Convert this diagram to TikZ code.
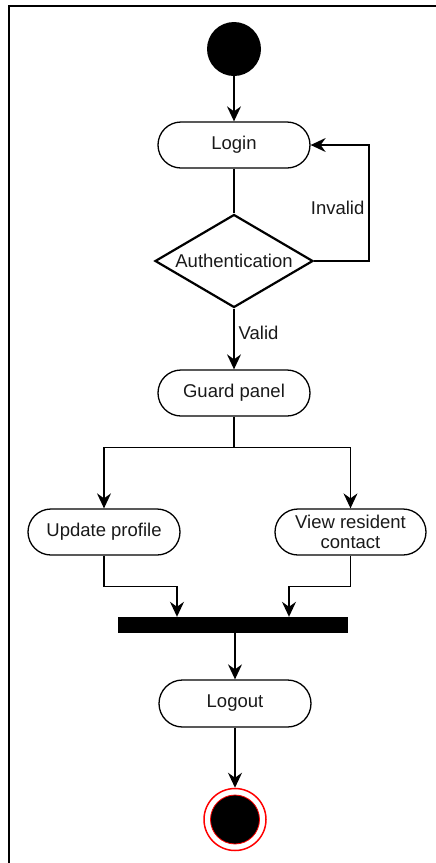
\documentclass[tikz,border=0pt]{standalone}
\usepackage{fontspec}
\setmainfont{Liberation Sans}
\usetikzlibrary{shapes.geometric,shapes.misc,arrows.meta,calc}

\tikzset{
  lbl/.style={font=\fontsize{18.5}{20.5}\selectfont, text=black!90},
  activity/.style={lbl, draw, line width=1.3pt, rounded rectangle,
    minimum width=156pt, minimum height=46pt, inner sep=2pt, align=center},
  decision/.style={lbl, draw, line width=2.2pt, diamond, aspect=1.7,
    minimum width=158pt, minimum height=93pt, inner sep=0pt},
  flow/.style={draw, line width=1.4pt,
    -{Stealth[length=15pt, width=14pt, inset=5pt]}},
  plain/.style={draw, line width=1.5pt},
  forkbar/.style={fill=black, draw=none, minimum width=230pt,
    minimum height=16pt, inner sep=0pt},
}

\begin{document}
\begin{tikzpicture}[x=1pt, y=1pt]
\useasboundingbox (0,0) rectangle (436,-863);

% page frame (top and left edges)
\draw[line width=2pt] (436,-5.5) -- (8.5,-5.5) -- (8.5,-863);

% nodes
\node[circle, fill=black, minimum size=54pt, inner sep=0pt] (start) at (234,-49) {};
\node[activity] (login) at (234,-145) {Login};
\node[decision] (auth) at (234,-261) {Authentication};
\node[activity] (guard) at (234,-393) {Guard panel};
\node[activity] (upd) at (104,-532) {Update profile};
\node[activity, minimum width=155pt] (view) at (350.5,-532) {View resident\\contact};
\node[forkbar] (bar) at (233,-625) {};
\node[activity, minimum height=47pt] (logout) at (235,-703.5) {Logout};
\node[circle, draw=red, line width=1.5pt, fill=white, minimum size=62pt, inner sep=0pt] (end) at (235,-819.5) {};
\node[circle, draw=red, line width=0.8pt, fill=black, minimum size=49pt, inner sep=0pt] (endcore) at (end.center) {};

\coordinate (j1) at ([xshift=-56pt]bar.north);
\coordinate (j2) at ([xshift=56pt]bar.north);
\coordinate (split) at ([yshift=-31pt]guard.south);

% connectors
\path[flow] (start) -- (login);
\path[plain] (login.south) -- (auth.north);
\path[flow] (auth.east) -- ++(55,0) |- (login.east)
  node[pos=0.23, left, inner sep=4pt, lbl] (invalid) {Invalid};
\path[flow] (auth.south) -- (guard.north)
  node[pos=0.4, right, inner sep=4pt, lbl] (valid) {Valid};
\path[plain] (guard.south) -- (split);
\path[flow] (split) -| (upd.north);
\path[flow] (split) -| (view.north);
\path[flow] (upd.south) -- ++(0,-31) -| (j1);
\path[flow] (view.south) -- ++(0,-31) -| (j2);
\path[flow] (bar.south -| logout.north) -- (logout.north);
\path[flow] (logout.south) -- (end.north);
\end{tikzpicture}
\end{document}
